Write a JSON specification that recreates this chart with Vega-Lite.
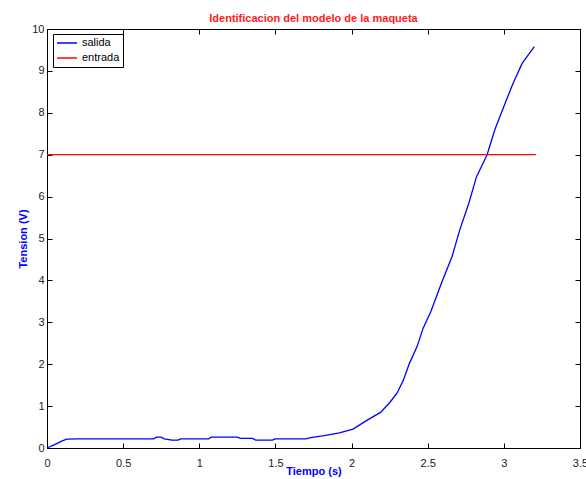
{
  "$schema": "https://vega.github.io/schema/vega-lite/v6.json",
  "width": 533,
  "height": 419,
  "autosize": {"type": "none"},
  "padding": {"left": 47, "top": 29, "right": 6, "bottom": 31},
  "background": "white",
  "config": {
    "font": "Liberation Sans",
    "view": {"stroke": "black", "strokeWidth": 1},
    "axis": {"grid": false, "domainColor": "black", "tickColor": "black", "labelColor": "#222", "labelFontSize": 11, "titleFontSize": 11, "titleColor": "#0000ff", "titleFontWeight": "bold"}
  },
  "title": {"text": "Identificacion del modelo de la maqueta", "color": "#ff2020", "fontSize": 11, "fontWeight": "bold", "offset": -1, "anchor": "middle"},
  "data": {"values": [
    {"t": 0, "v": 0, "s": "salida"},
    {"t": 0.05, "v": 0.08, "s": "salida"},
    {"t": 0.10, "v": 0.17, "s": "salida"},
    {"t": 0.13, "v": 0.21, "s": "salida"},
    {"t": 0.2, "v": 0.22, "s": "salida"},
    {"t": 0.5, "v": 0.22, "s": "salida"},
    {"t": 0.70, "v": 0.22, "s": "salida"},
    {"t": 0.72, "v": 0.26, "s": "salida"},
    {"t": 0.75, "v": 0.26, "s": "salida"},
    {"t": 0.77, "v": 0.22, "s": "salida"},
    {"t": 0.82, "v": 0.19, "s": "salida"},
    {"t": 0.86, "v": 0.19, "s": "salida"},
    {"t": 0.88, "v": 0.22, "s": "salida"},
    {"t": 1.06, "v": 0.22, "s": "salida"},
    {"t": 1.08, "v": 0.26, "s": "salida"},
    {"t": 1.25, "v": 0.26, "s": "salida"},
    {"t": 1.27, "v": 0.23, "s": "salida"},
    {"t": 1.35, "v": 0.23, "s": "salida"},
    {"t": 1.37, "v": 0.19, "s": "salida"},
    {"t": 1.48, "v": 0.19, "s": "salida"},
    {"t": 1.50, "v": 0.22, "s": "salida"},
    {"t": 1.70, "v": 0.22, "s": "salida"},
    {"t": 1.73, "v": 0.25, "s": "salida"},
    {"t": 1.81, "v": 0.29, "s": "salida"},
    {"t": 1.92, "v": 0.36, "s": "salida"},
    {"t": 2.01, "v": 0.45, "s": "salida"},
    {"t": 2.10, "v": 0.66, "s": "salida"},
    {"t": 2.19, "v": 0.85, "s": "salida"},
    {"t": 2.25, "v": 1.08, "s": "salida"},
    {"t": 2.30, "v": 1.32, "s": "salida"},
    {"t": 2.34, "v": 1.62, "s": "salida"},
    {"t": 2.38, "v": 2.02, "s": "salida"},
    {"t": 2.43, "v": 2.42, "s": "salida"},
    {"t": 2.47, "v": 2.86, "s": "salida"},
    {"t": 2.52, "v": 3.25, "s": "salida"},
    {"t": 2.59, "v": 3.93, "s": "salida"},
    {"t": 2.66, "v": 4.57, "s": "salida"},
    {"t": 2.71, "v": 5.2, "s": "salida"},
    {"t": 2.77, "v": 5.84, "s": "salida"},
    {"t": 2.82, "v": 6.47, "s": "salida"},
    {"t": 2.89, "v": 7.0, "s": "salida"},
    {"t": 2.94, "v": 7.59, "s": "salida"},
    {"t": 3.00, "v": 8.15, "s": "salida"},
    {"t": 3.06, "v": 8.7, "s": "salida"},
    {"t": 3.12, "v": 9.18, "s": "salida"},
    {"t": 3.20, "v": 9.58, "s": "salida"},
    {"t": 0, "v": 7, "s": "entrada"},
    {"t": 3.21, "v": 7, "s": "entrada"}
  ]},
  "layer": [
    {
      "mark": {"type": "line", "strokeWidth": 1.3},
      "encoding": {
        "x": {"field": "t", "type": "quantitative", "scale": {"domain": [0, 3.5], "nice": false, "zero": false}, "axis": {"title": "Tiempo (s)", "values": [0, 0.5, 1, 1.5, 2, 2.5, 3, 3.5], "format": "~r", "tickSize": -5, "labelPadding": 14, "titlePadding": -3, "labelFlush": false}},
        "y": {"field": "v", "type": "quantitative", "scale": {"domain": [0, 10], "nice": false}, "axis": {"title": "Tension (V)", "values": [0,1,2,3,4,5,6,7,8,9,10], "format": "d", "tickSize": -5, "labelPadding": 8, "titlePadding": 3, "labelFlush": false}},
        "color": {"field": "s", "type": "nominal", "scale": {"domain": ["salida", "entrada"], "range": ["#0000ff", "#ff0000"]},
          "legend": {"title": null, "orient": "none", "legendX": 6, "legendY": 5, "symbolType": "stroke", "symbolSize": 400, "symbolStrokeWidth": 1.3, "clipHeight": 12, "rowPadding": 3, "labelFontSize": 11, "labelColor": "black", "strokeColor": "black", "padding": 3, "fillColor": "white"}},
        "detail": {"field": "s"}
      }
    },
    {
      "mark": {"type": "line", "opacity": 0},
      "encoding": {
        "x": {"field": "t", "type": "quantitative", "axis": {"orient": "top", "title": null, "labels": false, "values": [0, 0.5, 1, 1.5, 2, 2.5, 3, 3.5], "tickSize": -5}},
        "y": {"field": "v", "type": "quantitative", "axis": {"orient": "right", "title": null, "labels": false, "values": [0,1,2,3,4,5,6,7,8,9,10], "tickSize": -5}}
      }
    }
  ],
  "resolve": {"axis": {"x": "independent", "y": "independent"}}
}
